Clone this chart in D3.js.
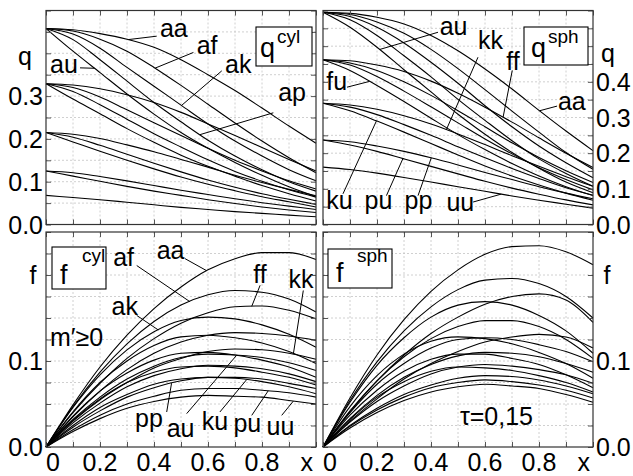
<!DOCTYPE html>
<html><head><meta charset="utf-8">
<script src="https://cdn.jsdelivr.net/npm/d3@7/dist/d3.min.js"></script>
<style>
html,body{margin:0;padding:0;background:#fff}
svg text{font-family:"Liberation Sans",Arial,Helvetica,sans-serif;fill:#000}
</style></head><body>
<svg id="chart" width="633" height="476"></svg>
<script>
// sample positions along x
const X = [0,0.1,0.2,0.3,0.4,0.5,0.6,0.7,0.8,0.9,1.0];
const pairs = ["aa","af","ak","ap","au","ff","fk","fp","fu","kk","kp","ku","pp","pu","uu"];

// q, cylinder
const qCyl = [
 [.458,.455,.446,.433,.414,.385,.350,.313,.272,.230,.190],
 [.458,.452,.433,.405,.367,.325,.281,.237,.195,.156,.121],
 [.458,.445,.412,.367,.323,.279,.235,.195,.160,.128,.102],
 [.458,.432,.385,.335,.285,.240,.197,.160,.128,.100,.078],
 [.458,.405,.355,.305,.258,.215,.178,.145,.115,.088,.065],
 [.329,.326,.317,.303,.285,.262,.235,.208,.180,.152,.125],
 [.329,.320,.298,.268,.238,.208,.178,.150,.125,.102,.083],
 [.329,.311,.280,.246,.212,.181,.151,.124,.101,.081,.064],
 [.329,.293,.259,.224,.192,.162,.136,.113,.091,.072,.055],
 [.215,.211,.201,.186,.170,.152,.134,.115,.098,.082,.067],
 [.215,.204,.185,.164,.143,.123,.104,.087,.072,.059,.047],
 [.215,.193,.171,.150,.130,.111,.094,.079,.065,.053,.041],
 [.125,.121,.112,.102,.091,.080,.070,.060,.051,.043,.035],
 [.125,.113,.101,.089,.078,.068,.058,.049,.041,.034,.028],
 [.068,.063,.058,.052,.046,.040,.035,.030,.026,.022,.018]
];
// q, sphere
const qSph = [
 [.595,.592,.581,.562,.530,.487,.436,.380,.320,.262,.207],
 [.595,.589,.568,.536,.491,.437,.378,.318,.259,.202,.155],
 [.595,.583,.553,.509,.455,.396,.333,.274,.220,.173,.131],
 [.595,.574,.530,.473,.414,.351,.292,.235,.184,.143,.107],
 [.595,.553,.497,.434,.372,.309,.253,.202,.158,.119,.089],
 [.462,.459,.447,.429,.402,.368,.329,.287,.243,.200,.160],
 [.462,.453,.432,.400,.362,.319,.274,.229,.188,.151,.118],
 [.462,.447,.415,.374,.330,.285,.240,.198,.159,.126,.097],
 [.462,.432,.390,.345,.298,.252,.210,.171,.136,.106,.081],
 [.340,.335,.323,.305,.282,.254,.224,.193,.163,.134,.107],
 [.340,.329,.308,.280,.250,.218,.187,.157,.129,.103,.082],
 [.340,.319,.290,.259,.227,.195,.164,.136,.111,.088,.068],
 [.237,.232,.220,.205,.187,.167,.146,.126,.106,.088,.072],
 [.237,.223,.205,.184,.163,.142,.121,.102,.085,.069,.055],
 [.161,.154,.144,.132,.119,.106,.093,.080,.068,.057,.046]
];
// f, cylinder
const fCyl = [
 [0,.049,.093,.130,.161,.186,.206,.219,.226,.226,.218],
 [0,.047,.087,.120,.146,.165,.177,.182,.180,.172,.157],
 [0,.046,.084,.113,.134,.147,.151,.149,.142,.131,.116],
 [0,.041,.075,.100,.118,.128,.130,.127,.121,.111,.097],
 [0,.036,.065,.086,.101,.109,.110,.107,.101,.093,.081],
 [0,.040,.074,.103,.126,.144,.156,.163,.164,.159,.149],
 [0,.035,.065,.090,.109,.122,.130,.133,.132,.129,.124],
 [0,.032,.058,.079,.094,.104,.108,.107,.104,.098,.089],
 [0,.031,.056,.075,.087,.093,.094,.092,.087,.081,.072],
 [0,.030,.055,.075,.092,.103,.111,.114,.113,.109,.102],
 [0,.028,.051,.070,.083,.091,.095,.094,.091,.085,.076],
 [0,.025,.046,.061,.073,.079,.081,.080,.076,.070,.062],
 [0,.023,.042,.058,.069,.077,.081,.081,.079,.074,.068],
 [0,.020,.037,.050,.059,.066,.068,.068,.066,.063,.058],
 [0,.018,.033,.045,.053,.058,.060,.059,.058,.054,.050]
];
// f, sphere
const fSph = [
 [0,.057,.107,.148,.181,.206,.224,.233,.234,.227,.212],
 [0,.054,.099,.135,.163,.183,.194,.196,.190,.175,.150],
 [0,.052,.095,.127,.151,.165,.169,.165,.153,.135,.109],
 [0,.047,.083,.108,.123,.128,.126,.120,.110,.097,.080],
 [0,.037,.066,.088,.102,.108,.108,.103,.096,.084,.069],
 [0,.041,.077,.107,.132,.151,.166,.175,.178,.171,.145],
 [0,.042,.077,.105,.126,.140,.147,.147,.140,.125,.103],
 [0,.040,.073,.097,.115,.125,.127,.125,.119,.111,.099],
 [0,.029,.053,.071,.085,.093,.096,.094,.090,.084,.074],
 [0,.030,.056,.079,.097,.111,.122,.128,.131,.128,.115],
 [0,.033,.060,.081,.096,.106,.110,.109,.105,.097,.087],
 [0,.032,.058,.076,.088,.093,.092,.089,.083,.075,.064],
 [0,.025,.045,.061,.072,.080,.083,.082,.078,.071,.062],
 [0,.024,.043,.058,.069,.075,.078,.076,.072,.066,.057],
 [0,.022,.040,.054,.064,.070,.073,.071,.068,.061,.052]
];

// tick labels
const xTickVals = [0,0.2,0.4,0.6,0.8,1.0];
const xTickText = ["0","0.2","0.4","0.6","0.8","x"];
const qCylTickVals = [0,0.1,0.2,0.3,0.4];
const qCylTickText = ["0.0","0.1","0.2","0.3","q"];
const qSphTickVals = [0,0.1,0.2,0.3,0.4,0.5];
const qSphTickText = ["0.0","0.1","0.2","0.3","0.4","q"];
const fTickVals = [0,0.1,0.2];
const fTickText = ["0.0","0.1","f"];

// curve labels: [text, x, y(baseline), leaderStartX, leaderStartY, curve, curveX]
const qCylLabels = [
 ["aa",.422,.437,.41,.440,"aa",.305],
 ["af",.558,.398,.546,.402,"af",.404],
 ["ak",.663,.353,.651,.359,"ak",.502],
 ["ap",.860,.289,.842,.261,"ap",.570],
 ["au",.015,.355,.126,.366,"au",.180]
];
const qSphLabels = [
 ["au",.432,.530,.426,.539,"au",.210],
 ["kk",.574,.491,.574,.469,"kk",.457],
 ["ff",.679,.432,.701,.432,"ff",.667],
 ["aa",.870,.3215,.867,.332,"aa",.802],
 ["fu",.012,.376,.089,.385,"fu",.173],
 ["ku",.012,.044,.074,.086,"ku",.198],
 ["pu",.154,.044,.235,.081,"pu",.296],
 ["pp",.302,.044,.352,.081,"pp",.401],
 ["uu",.457,.039,.556,.063,"uu",.660]
];
const fCylLabels = [
 ["aa",.410,.219,.515,.219,"aa",.595],
 ["af",.249,.210,.336,.211,"af",.533],
 ["ak",.243,.1539,.336,.153,"ak",.416],
 ["ff",.768,.1907,.793,.188,"ff",.762],
 ["kk",.898,.185,.953,.182,"kk",.916],
 ["pp",.330,.0233,.447,.0407,"pp",.465],
 ["au",.447,.0116,.521,.0388,"au",.706],
 ["ku",.577,.0202,.644,.0407,"ku",.743],
 ["pu",.694,.0174,.762,.0368,"pu",.823],
 ["uu",.817,.0136,.873,.0368,"uu",.916]
];

const svg = d3.select("#chart");
const FS = 25;

function interp(arr, x){
  const i = Math.min(X.length-2, Math.floor(x/0.1));
  const t = (x - X[i])/(X[i+1]-X[i]);
  return arr[i] + t*(arr[i+1]-arr[i]);
}

function panel(cfg){
  const x = d3.scaleLinear().domain([0,1]).range([cfg.x0,cfg.x1]);
  const y = d3.scaleLinear().domain([0,cfg.ymax]).range([cfg.yb,cfg.yt]);
  const g = svg.append("g");
  const xg = d3.range(1,10).map(i=>i/10);
  const nY = Math.round(cfg.ymax/cfg.step);
  const yg = d3.range(1,nY).map(i=>i*cfg.step);
  g.selectAll(".gx").data(xg).join("line")
    .attr("x1",d=>x(d)).attr("x2",d=>x(d)).attr("y1",cfg.yt).attr("y2",cfg.yb)
    .attr("stroke","#c4c4c4").attr("stroke-width",0.8).attr("stroke-dasharray","2,2");
  g.selectAll(".gy").data(yg).join("line")
    .attr("y1",d=>y(d)).attr("y2",d=>y(d)).attr("x1",cfg.x0).attr("x2",cfg.x1)
    .attr("stroke","#c4c4c4").attr("stroke-width",0.8).attr("stroke-dasharray","2,2");
  const line = d3.line().x((d,i)=>x(X[i])).y(d=>y(d)).curve(d3.curveMonotoneX);
  g.selectAll(".c").data(cfg.data).join("path")
    .attr("d",line).attr("fill","none").attr("stroke","#000").attr("stroke-width",1.1);
  (cfg.labels||[]).forEach(L=>{
    const idx = pairs.indexOf(L[5]);
    const cy = interp(cfg.data[idx], L[6]);
    g.append("line").attr("x1",x(L[3])).attr("y1",y(L[4])).attr("x2",x(L[6])).attr("y2",y(cy))
      .attr("stroke","#000").attr("stroke-width",1);
    g.append("text").attr("x",x(L[1])).attr("y",y(L[2])).attr("font-size",FS).text(L[0]);
  });
  const tx = d3.range(0,11).map(i=>i/10);
  const ty = d3.range(0,nY+1).map(i=>i*cfg.step);
  const ax = [
    [d3.axisBottom(x).tickValues(tx).tickSize(-5).tickFormat(""), `translate(0,${cfg.yb})`],
    [d3.axisTop(x).tickValues(tx).tickSize(-5).tickFormat(""), `translate(0,${cfg.yt})`],
    [d3.axisLeft(y).tickValues(ty).tickSize(-5).tickFormat(""), `translate(${cfg.x0},0)`],
    [d3.axisRight(y).tickValues(ty).tickSize(-5).tickFormat(""), `translate(${cfg.x1},0)`]
  ];
  ax.forEach(([a,t])=>{
    const s = g.append("g").attr("transform",t).call(a);
    s.select(".domain").remove();
    s.selectAll("line").attr("stroke","#555").attr("stroke-width",1);
  });
  g.append("rect").attr("x",cfg.x0).attr("y",cfg.yt).attr("width",cfg.x1-cfg.x0).attr("height",cfg.yb-cfg.yt)
    .attr("fill","none").attr("stroke","#333").attr("stroke-width",1.2);
  return {x,y,g};
}

const L0=46, L1=316, R0=323, R1=593, T0=10.5, T1=224.5, B0=232, B1=447;

const tl = panel({x0:L0,x1:L1,yt:T0,yb:T1,ymax:0.5,step:0.05,data:qCyl,labels:qCylLabels});
const tr = panel({x0:R0,x1:R1,yt:T0,yb:T1,ymax:0.6,step:0.05,data:qSph,labels:qSphLabels});
const bl = panel({x0:L0,x1:L1,yt:B0,yb:B1,ymax:0.25,step:0.025,data:fCyl,labels:fCylLabels});
const br = panel({x0:R0,x1:R1,yt:B0,yb:B1,ymax:0.25,step:0.025,data:fSph,labels:[]});

function yLabels(p, vals, texts, xpos, anchor, special, qdy){
  vals.forEach((v,i)=>{
    const t = texts[i];
    const isVar = (t==="q"||t==="f");
    svg.append("text").attr("x", isVar ? special : xpos).attr("y", p.y(v))
      .attr("dy", isVar ? (t==="q" ? qdy : "0.35em") : "0.36em")
      .attr("text-anchor", isVar ? "middle" : anchor).attr("font-size",FS).text(t);
  });
}
yLabels(tl, qCylTickVals, qCylTickText, 43, "end", 25, "0.45em");
yLabels(tr, qSphTickVals, qSphTickText, 596, "start", 608, "0.62em");
yLabels(bl, fTickVals, fTickText, 43, "end", 33);
yLabels(br, fTickVals, fTickText, 596, "start", 607);

[bl, br].forEach(p=>{
  xTickVals.forEach((v,i)=>{
    const t = xTickText[i];
    const last = i===xTickVals.length-1;
    const anchor = i===0 ? "start" : (last ? "end" : "middle");
    svg.append("text").attr("x", p.x(v) + (i===0?0:(last?-3:0))).attr("y", 471)
      .attr("text-anchor",anchor).attr("font-size",FS).text(t);
  });
});

function box(x,y,w,h,main,sup,mx,my,sx,sy){
  svg.append("rect").attr("x",x).attr("y",y).attr("width",w).attr("height",h)
    .attr("fill","#fff").attr("stroke","#000").attr("stroke-width",1.1);
  svg.append("text").attr("x",mx).attr("y",my).attr("font-size",27).text(main);
  svg.append("text").attr("x",sx).attr("y",sy).attr("font-size",19).text(sup);
}
box(256,27,56,39,"q","cyl",260,57,277,43);
box(524,27,64,38,"q","sph",531,57,548,43);
box(52,247,54,42,"f","cyl",60,284,82,262);
box(328,249,64,39,"f","sph",336,282,357,262);

svg.append("text").attr("x",bl.x(0.015)).attr("y",bl.y(0.118)).attr("font-size",FS).text("m\u2032\u22650");
svg.append("text").attr("x",br.x(0.507)).attr("y",br.y(0.0256)).attr("font-size",FS).text("\u03c4=0,15");
</script>
</body></html>
